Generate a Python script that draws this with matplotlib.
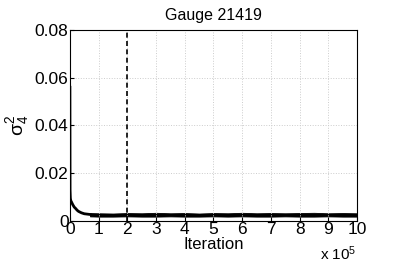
import numpy as np
import matplotlib
matplotlib.use("Agg")
import matplotlib.pyplot as plt

plt.rcParams['font.family'] = ['Liberation Sans', 'DejaVu Sans']
plt.rcParams['mathtext.fontset'] = 'custom'
plt.rcParams['mathtext.rm'] = 'Liberation Sans'
plt.rcParams['mathtext.it'] = 'Liberation Sans'

# burn-in part of the trace (iteration, sigma_4^2)
early_iter = [0, 500, 1500, 3000, 6000, 10000, 15000, 20000, 25000, 30000, 40000, 50000, 70000]
early_val = [0.056, 0.013, 0.0095, 0.0085, 0.0078, 0.0068, 0.0058, 0.0052, 0.0045, 0.0040, 0.0034, 0.0030, 0.0027]

# stationary part: envelope of the noisy trace
band_iter = [70000, 100000, 150000, 200000, 250000, 300000, 350000, 400000, 450000, 500000,
             550000, 600000, 650000, 700000, 750000, 800000, 850000, 900000, 950000, 1000000]
band_lo = [0.0019, 0.0018, 0.0018, 0.0019, 0.0018, 0.0018, 0.0019, 0.0018, 0.0018, 0.0019,
           0.0018, 0.0019, 0.0018, 0.0018, 0.0019, 0.0018, 0.0018, 0.0019, 0.0018, 0.0018]
band_hi = [0.0033, 0.0032, 0.0031, 0.0033, 0.0032, 0.0034, 0.0032, 0.0033, 0.0031, 0.0033,
           0.0032, 0.0034, 0.0032, 0.0033, 0.0032, 0.0033, 0.0034, 0.0032, 0.0033, 0.0032]

burn_in = 200000

fig = plt.figure(figsize=(3.95, 2.63), dpi=100)
ax = fig.add_axes([0.177, 0.160, 0.727, 0.726])

ax.plot(early_iter, early_val, color='black', linewidth=2)
ax.fill_between(band_iter, band_lo, band_hi, color='black', linewidth=0.6)
ax.axvline(burn_in, color='black', linestyle='--', linewidth=1.2, dashes=(3, 2))

ax.set_xlim(0, 1000000)
ax.set_ylim(0, 0.08)
ax.set_xticks(np.arange(0, 1000001, 100000))
ax.set_xticklabels([str(i) for i in range(11)])
ax.set_yticks([0, 0.02, 0.04, 0.06, 0.08])
ax.set_yticklabels(['0', '0.02', '0.04', '0.06', '0.08'])
ax.tick_params(direction='in', labelsize=12.5, length=3, pad=1)
ax.grid(True, linestyle=':', color='#cccccc', linewidth=0.7)

ax.set_title('Gauge 21419', fontsize=11.5, pad=7)
ax.set_xlabel('Iteration', fontsize=12, labelpad=0)
ax.set_ylabel(r'$\mathregular{σ_4^2}$', fontsize=14, labelpad=3)
fig.text(0.81, 0.012, r'x 10$^5$', fontsize=11)

for s in ax.spines.values():
    s.set_linewidth(0.8)

fig.savefig('out.png', dpi=100)
